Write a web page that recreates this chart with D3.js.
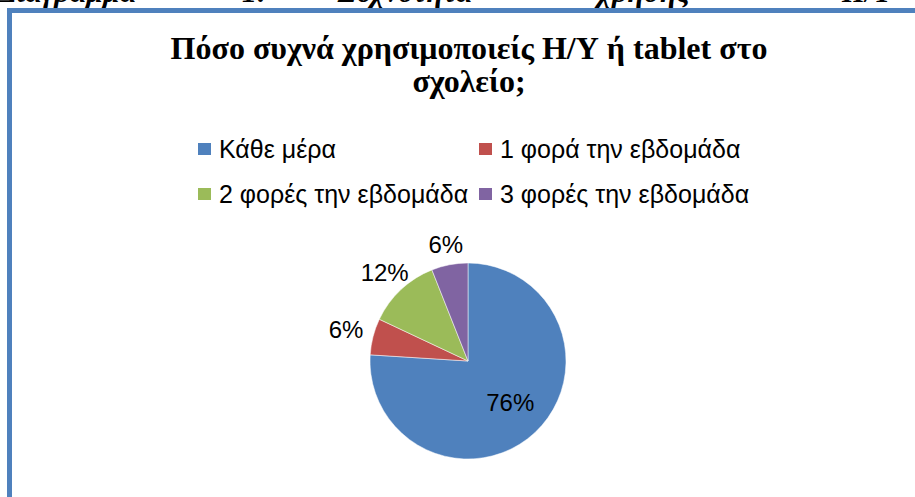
<!DOCTYPE html>
<html>
<head>
<meta charset="utf-8">
<style>
    body {
        margin: 0;
        background: #fff;
    }
    svg {
        display: block;
    }
    .caption {
        font-family: "Liberation Serif", serif;
        font-weight: bold;
        font-style: italic;
        font-size: 30px;
        fill: #000;
    }
    .title {
        font-family: "Liberation Serif", serif;
        font-weight: bold;
        font-size: 32px;
        text-anchor: middle;
        fill: #000;
    }
    .legend-label, .slice-label {
        font-family: "Liberation Sans", Arial, sans-serif;
        font-size: 25px;
        fill: #000;
    }
    .slice-label {
        font-size: 24px;
        text-anchor: middle;
    }
</style>
</head>
<body>
<script src="https://cdn.jsdelivr.net/npm/d3@7"></script>
<script>

    var categories = ["Κάθε μέρα", "1 φορά την εβδομάδα", "2 φορές την εβδομάδα", "3 φορές την εβδομάδα"];
    var values = [76, 6, 12, 6];
    var colors = ["#4F81BD", "#C0504D", "#9BBB59", "#8064A2"];
    var titleLines = ["Πόσο συχνά χρησιμοποιείς Η/Υ ή tablet στο", "σχολείο;"];
    var captionWords = ["Διάγραμμα", "1:", "Συχνότητα", "χρήσης", "Η/Υ"];

    var width = 915,
        height = 497,
        cx = 468,
        cy = 361,
        radius = 98,
        labelGap = 10;

    var svg = d3.select("body").append("svg")
        .attr("width", width)
        .attr("height", height);

    // document caption, cut off at the top of the picture as in the source
    var captionX = d3.scaleOrdinal()
        .domain(captionWords)
        .range([-2, 242, 338, 598, 842]);

    svg.append("g").selectAll("text")
        .data(captionWords)
      .enter().append("text")
        .attr("class", "caption")
        .attr("x", function(d) {return captionX(d)})
        .attr("y", 2)
        .text(function(d) {return d});

    // chart frame
    svg.append("rect")
        .attr("x", 9.5)
        .attr("y", 10.5)
        .attr("width", width + 20)
        .attr("height", height + 20)
        .attr("fill", "#fff")
        .attr("stroke", "#4F81BD")
        .attr("stroke-width", 5);

    svg.append("g").selectAll("text")
        .data(titleLines)
      .enter().append("text")
        .attr("class", "title")
        .attr("x", 469)
        .attr("y", function(d, i) {return 59 + i * 33})
        .text(function(d) {return d});

    // legend
    var legend = svg.append("g").selectAll("g")
        .data(categories)
      .enter().append("g")
        .attr("transform", function(d, i) {
            return "translate(" + (198 + (i % 2) * 281) + "," + (149 + Math.floor(i / 2) * 45) + ")";
        });

    legend.append("rect")
        .attr("x", 0)
        .attr("y", -6)
        .attr("width", 13)
        .attr("height", 12)
        .attr("fill", function(d, i) {return colors[i]});

    legend.append("text")
        .attr("class", "legend-label")
        .attr("x", 21)
        .attr("dy", "0.35em")
        .text(function(d) {return d});

    // pie
    var total = d3.sum(values);
    var pie = d3.pie().sort(null).value(function(d) {return d});
    var arc = d3.arc().innerRadius(0).outerRadius(radius);
    var innerLabelArc = d3.arc().innerRadius(radius * 1.2).outerRadius(0);

    var pieGroup = svg.append("g")
        .attr("transform", "translate(" + cx + "," + cy + ")");

    var slices = pie(values);

    pieGroup.selectAll("path")
        .data(slices)
      .enter().append("path")
        .attr("d", arc)
        .attr("fill", function(d, i) {return colors[i]})
        .attr("stroke", "#fff")
        .attr("stroke-width", 0.5);

    var labels = pieGroup.selectAll("text")
        .data(slices)
      .enter().append("text")
        .attr("class", "slice-label")
        .attr("dy", "0.35em")
        .text(function(d) {return Math.round(d.value / total * 100) + "%"});

    labels.each(function(d) {
        var el = d3.select(this);
        var mid = (d.startAngle + d.endAngle) / 2;
        var dx = Math.sin(mid), dy = -Math.cos(mid);
        if (d.value / total > 0.3) {
            var c = innerLabelArc.centroid(d);
            el.attr("x", c[0] + 2).attr("y", c[1] - 1);
        } else {
            var w = this.getComputedTextLength(), h = 20;
            var ext = Math.min(w / 2 / Math.max(Math.abs(dx), 1e-6), h / 2 / Math.max(Math.abs(dy), 1e-6));
            var dist = radius + labelGap + ext;
            el.attr("x", dx * dist).attr("y", dy * dist);
        }
    });
</script>
</body>
</html>
